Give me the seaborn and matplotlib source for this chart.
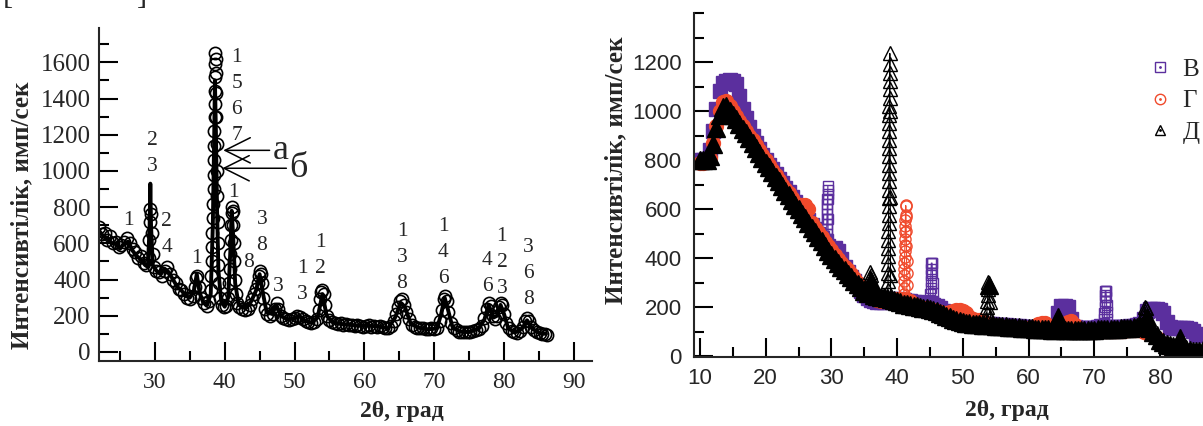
import numpy as np
import matplotlib
matplotlib.use("Agg")
import matplotlib.pyplot as plt
from matplotlib.lines import Line2D
from matplotlib.ticker import MultipleLocator
import seaborn as sns

# ---------------- LEFT PANEL DATA (curve "а" = circles, curve "б" = line) -------------
a_x = [22.0, 22.4, 22.8, 23.2, 23.6, 24.0, 24.4, 24.8, 25.2, 25.6, 26.0, 26.4, 26.8, 27.2, 27.6,
       28.0, 28.4, 28.8, 29.1, 29.2, 29.3, 29.35, 29.45, 29.55, 29.7, 29.9, 30.2, 30.6, 31.0, 31.4,
       31.8, 32.2, 32.6, 33.0, 33.4, 33.8, 34.2, 34.6, 35.0, 35.4, 35.7, 35.9, 36.1, 36.3, 36.6,
       37.0, 37.4, 37.8, 38.0, 38.1, 38.15, 38.2, 38.25, 38.3, 38.35, 38.4, 38.43, 38.46, 38.49,
       38.52, 38.55, 38.58, 38.6, 38.62, 38.64, 38.66, 38.7, 38.74, 38.78, 38.82, 38.86, 38.9,
       38.94, 38.98, 39.02, 39.08, 39.15, 39.3, 39.6, 39.9, 40.2, 40.45, 40.6, 40.7, 40.8, 40.88,
       40.95, 41.0, 41.06, 41.12, 41.2, 41.28, 41.36, 41.45, 41.6, 41.8, 42.1, 42.5, 42.9, 43.3,
       43.6, 43.9, 44.2, 44.5, 44.7, 44.85, 45.0, 45.15, 45.3, 45.5, 45.8, 46.1, 46.5, 46.9, 47.2,
       47.45, 47.7, 48.0, 48.4, 48.8, 49.2, 49.6, 50.0, 50.4, 50.8, 51.2, 51.6, 52.0, 52.4, 52.8,
       53.2, 53.5, 53.7, 53.85, 54.0, 54.15, 54.35, 54.6, 55.0, 55.4, 55.8, 56.2, 56.6, 57.0, 57.4,
       57.8, 58.2, 58.6, 59.0, 59.4, 59.8, 60.2, 60.6, 61.0, 61.4, 61.8, 62.2, 62.6, 63.0, 63.4,
       63.8, 64.2, 64.5, 64.8, 65.1, 65.4, 65.7, 66.0, 66.4, 66.8, 67.2, 67.6, 68.0, 68.4, 68.8,
       69.2, 69.6, 70.0, 70.4, 70.8, 71.1, 71.35, 71.55, 71.8, 72.05, 72.4, 72.8, 73.2, 73.6, 74.0,
       74.4, 74.8, 75.2, 75.6, 76.0, 76.4, 76.8, 77.2, 77.5, 77.8, 78.1, 78.4, 78.7, 79.0, 79.25,
       79.5, 79.75, 80.0, 80.3, 80.7, 81.1, 81.5, 81.9, 82.3, 82.7, 83.0, 83.3, 83.6, 83.9, 84.3,
       84.7, 85.1, 85.5, 85.9, 86.2]
a_y = [690, 650, 660, 620, 640, 600, 610, 580, 590, 610, 630, 600, 570, 550, 520,
       530, 490, 480, 520, 620, 720, 790, 760, 660, 540, 470, 450, 440, 420, 450,
       470, 430, 400, 380, 350, 340, 320, 300, 295, 310, 360, 410, 420, 360, 300,
       270, 255, 280, 340, 420, 500, 580, 660, 740, 820, 900, 980, 1060, 1140,
       1220, 1300, 1370, 1440, 1520, 1590, 1650, 1620, 1540, 1430, 1300, 1150, 1000,
       860, 720, 600, 480, 380, 300, 260, 250, 255, 300, 380, 460, 540, 620,
       700, 770, 800, 780, 700, 600, 500, 400, 320, 270, 250, 240, 230, 240,
       260, 290, 320, 350, 380, 420, 450, 430, 380, 300, 240, 210, 200, 210, 240,
       270, 240, 200, 185, 180, 175, 180, 185, 200, 195, 180, 170, 165, 160, 165,
       180, 230, 290, 330, 340, 320, 260, 200, 175, 165, 160, 155, 160, 150, 155,
       150, 150, 145, 150, 145, 140, 145, 150, 140, 145, 140, 145, 140, 135, 130,
       145, 170, 210, 250, 280, 290, 260, 220, 180, 150, 140, 135, 130, 130, 125,
       125, 130, 125, 135, 170, 230, 290, 310, 280, 220, 160, 135, 120, 112, 108,
       112, 108, 112, 115, 120, 128, 145, 190, 240, 270, 255, 200, 180, 200, 250,
       270, 260, 210, 160, 130, 115, 110, 105, 115, 140, 170, 185, 170, 140, 120,
       110, 105, 100, 100, 95]

b_x = [22.0, 22.6, 23.2, 23.8, 24.4, 25.0, 25.6, 26.2, 26.8, 27.4, 28.0, 28.6, 29.0, 29.25,
       29.35, 29.45, 29.7, 30.2, 30.8, 31.4, 32.0, 32.6, 33.2, 33.8, 34.4, 35.0, 35.6, 36.0,
       36.4, 36.9, 37.5, 38.0, 38.3, 38.5, 38.6, 38.75, 38.9, 39.1, 39.5, 40.0, 40.5, 40.8,
       41.0, 41.2, 41.5, 42.0, 43.0, 43.8, 44.5, 45.0, 45.4, 46.0, 46.8, 47.4, 48.0, 49.0,
       50.0, 50.6, 51.4, 52.4, 53.3, 54.0, 54.6, 55.4, 56.6, 58.0, 59.4, 60.8, 62.2, 63.4,
       64.4, 65.2, 65.8, 66.6, 67.6, 69.0, 70.4, 71.0, 71.5, 72.0, 72.6, 73.6, 75.0, 76.4,
       77.2, 77.8, 78.5, 79.0, 79.5, 80.0, 80.6, 81.6, 82.6, 83.3, 84.0, 85.0, 86.0]
b_y = [670, 640, 630, 600, 600, 570, 600, 610, 560, 530, 510, 480, 470, 700,
       930, 700, 480, 450, 430, 460, 440, 400, 360, 340, 310, 300, 340, 430,
       330, 275, 260, 320, 700, 1200, 1500, 1200, 800, 450, 280, 250, 300, 550,
       780, 650, 380, 260, 240, 280, 340, 430, 340, 220, 210, 260, 200, 180,
       185, 200, 175, 160, 190, 320, 200, 165, 155, 150, 145, 145, 140, 130,
       190, 270, 250, 160, 135, 125, 130, 210, 300, 230, 140, 112, 110, 130,
       180, 260, 190, 200, 260, 210, 130, 108, 130, 175, 130, 105, 100]

# peak index labels (x, y, text)
peak_label_x = [26.2, 29.6, 31.7, 36.0, 41.75, 41.2, 43.35, 45.35, 47.6, 51.1, 53.7, 65.4, 71.3, 77.6, 79.7, 83.5]
peak_label_y = [728, 1098, 651, 519, 1412, 883, 497, 662, 364, 392, 535, 524, 552, 436, 497, 432]
peak_label_t = ["1", "2\n3", "2\n4", "1", "1\n5\n6\n7", "1", "8", "3\n8", "3", "1\n3", "1\n2",
                "1\n3\n8", "1\n4\n6", "4\n6", "1\n2\n3", "3\n6\n8"]

# ---------------- RIGHT PANEL DATA (samples В, Г, Д) ----------------
grid = [10.0, 10.5, 11.0, 11.5, 12.0, 12.5, 13.0, 13.5, 14.0, 14.5,
        15.0, 15.5, 16.0, 16.5, 17.0, 17.5, 18.0, 18.5, 19.0, 19.5,
        20.0, 20.5, 21.0, 21.5, 22.0, 22.5, 23.0, 23.5, 24.0, 24.5,
        25.0, 25.5, 26.0, 26.5, 27.0, 27.5, 28.0, 28.5, 29.0, 29.5,
        30.0, 30.5, 31.0, 31.5, 32.0, 32.5, 33.0, 33.5, 34.0, 34.5,
        35.0, 35.5, 36.0, 36.5, 37.0, 37.5, 38.0, 38.5, 39.0, 39.5,
        40.0, 40.5, 41.0, 41.5, 42.0, 42.5, 43.0, 43.5, 44.0, 44.5,
        45.0, 45.5, 46.0, 46.5, 47.0, 47.5, 48.0, 48.5, 49.0, 49.5,
        50.0, 50.5, 51.0, 51.5, 52.0, 52.5, 53.0, 53.5, 54.0, 54.5,
        55.0, 55.5, 56.0, 56.5, 57.0, 57.5, 58.0, 58.5, 59.0, 59.5,
        60.0, 60.5, 61.0, 61.5, 62.0, 62.5, 63.0, 63.5, 64.0, 64.5,
        65.0, 65.5, 66.0, 66.5, 67.0, 67.5, 68.0, 68.5, 69.0, 69.5,
        70.0, 70.5, 71.0, 71.5, 72.0, 72.5, 73.0, 73.5, 74.0, 74.5,
        75.0, 75.5, 76.0, 76.5, 77.0, 77.5, 78.0, 78.5, 79.0, 79.5,
        80.0, 80.5, 81.0, 81.5, 82.0, 82.5, 83.0, 83.5, 84.0, 84.5,
        85.0, 85.5, 86.0, 86.5, 87.0]

V_base = [800, 800, 805, 840, 920, 1010, 1080, 1115, 1122, 1125,
          1122, 1110, 1060, 1010, 970, 935, 900, 870, 845, 822,
          802, 782, 763, 744, 725, 706, 687, 668, 649, 630,
          611, 592, 573, 554, 536, 518, 500, 482, 465, 448,
          430, 440, 430, 395, 365, 345, 325, 305, 285, 265,
          250, 238, 230, 225, 222, 220, 220, 225, 230, 235,
          235, 230, 228, 226, 224, 222, 220, 217, 215, 212,
          212, 210, 205, 195, 185, 175, 168, 160, 155, 150,
          146, 143, 140, 138, 136, 134, 133, 132, 131, 130,
          129, 128, 127, 126, 125, 124, 123, 122, 121, 120,
          119, 118, 117, 116, 115, 115, 114, 114, 125, 175,
          205, 207, 200, 150, 118, 115, 114, 114, 115, 115,
          116, 120, 125, 120, 121, 120, 118, 118, 119, 120,
          121, 122, 124, 126, 130, 150, 185, 192, 192, 192,
          190, 175, 140, 118, 115, 115, 115, 115, 115, 113,
          105, 92, 88, 88, 88]
V_ex_x = [29.24, 29.26, 29.28, 29.30, 29.32, 29.34, 29.36, 29.38, 29.40, 29.42, 29.44, 29.46,
          29.47, 29.48, 29.49,
          45.02, 45.05, 45.08, 45.11, 45.14, 45.17, 45.2, 45.26, 45.32, 45.38, 45.42, 45.45, 45.48,
          71.52, 71.55, 71.58, 71.61, 71.64, 71.67, 71.72, 71.78, 71.84, 71.88, 71.92, 71.96]
V_ex_y = [480, 500, 520, 540, 560, 580, 600, 620, 640, 660, 680, 695,
          640, 560, 480,
          230, 255, 280, 305, 330, 355, 380, 380, 380, 340, 300, 260, 225,
          150, 175, 200, 225, 250, 265, 265, 265, 240, 210, 180, 150]

G_base = [790, 788, 792, 810, 870, 940, 1000, 1035, 1040, 1020,
          1000, 980, 960, 940, 920, 900, 880, 860, 840, 820,
          800, 780, 760, 740, 720, 700, 682, 664, 645, 627,
          610, 615, 615, 600, 545, 525, 505, 487, 468, 450,
          432, 415, 398, 382, 365, 350, 335, 318, 300, 284,
          268, 254, 244, 236, 230, 226, 224, 226, 228, 230,
          232, 232, 232, 228, 225, 212, 206, 202, 198, 195,
          193, 190, 186, 180, 176, 178, 182, 186, 188, 188,
          186, 178, 160, 150, 148, 148, 145, 135, 128, 124,
          122, 121, 120, 119, 118, 117, 116, 115, 114, 114,
          113, 113, 120, 132, 136, 134, 120, 110, 108, 108,
          110, 125, 140, 142, 128, 110, 106, 105, 105, 104,
          104, 103, 103, 103, 103, 103, 103, 104, 104, 105,
          106, 107, 108, 108, 106, 100, 95, 92, 88, 75,
          58, 45, 35, 28, 22, 18, 16, 15, 14, 14,
          14, 15, 16, 18, 20]
G_ex_x = [41.02, 41.04, 41.06, 41.08, 41.10, 41.12, 41.14, 41.16, 41.18, 41.20, 41.22, 41.24,
          41.26, 41.28, 41.30, 41.33, 41.36, 41.39, 41.42, 41.44, 41.46, 41.48]
G_ex_y = [255, 280, 305, 330, 355, 380, 405, 430, 455, 480, 505, 530,
          555, 578, 615, 612, 570, 510, 450, 390, 340, 290]

D_base = [800, 800, 802, 815, 865, 930, 985, 1018, 1020, 1002,
          985, 966, 947, 928, 909, 890, 870, 850, 830, 810,
          790, 771, 752, 733, 714, 695, 676, 657, 637, 618,
          600, 581, 562, 543, 524, 506, 487, 469, 450, 431,
          412, 397, 382, 366, 350, 336, 322, 308, 295, 282,
          268, 258, 305, 250, 246, 242, 240, 236, 233, 229,
          225, 220, 215, 212, 210, 207, 204, 201, 198, 195,
          192, 188, 183, 178, 172, 166, 160, 154, 148, 144,
          140, 137, 135, 133, 131, 130, 129, 128, 290, 126,
          125, 124, 123, 122, 121, 120, 119, 118, 117, 116,
          115, 114, 113, 112, 111, 110, 110, 109, 109, 160,
          110, 109, 108, 108, 108, 108, 108, 108, 108, 109,
          109, 110, 110, 111, 111, 112, 112, 113, 114, 115,
          116, 117, 119, 121, 124, 128, 160, 115, 100, 85,
          68, 57, 50, 44, 40, 38, 75, 33, 28, 24,
          21, 20, 22, 25, 28]
D_ex_x = [35.6, 35.7, 35.8, 35.9, 35.95, 36.1, 36.2,
          38.60, 38.61, 38.62, 38.63, 38.64, 38.65, 38.66, 38.67, 38.68, 38.69,
          38.70, 38.71, 38.72, 38.73, 38.74, 38.75, 38.76, 38.77, 38.78, 38.79,
          38.80, 38.81, 38.82, 38.83, 38.84, 38.85, 38.86, 38.87, 38.88, 38.89,
          38.92, 38.95, 38.98,
          53.6, 53.65, 53.7, 53.75, 53.8, 53.85, 53.9, 54.1, 54.2,
          77.55, 77.6, 77.65, 77.7, 77.8,
          82.9, 83.1]
D_ex_y = [275, 300, 325, 345, 330, 280, 262,
          240, 272, 306, 341, 375, 408, 443, 476, 511, 545,
          578, 613, 646, 680, 715, 748, 782, 816, 850, 884,
          918, 951, 986, 1020, 1054, 1088, 1122, 1156, 1190, 1235,
          1000, 650, 330,
          150, 175, 200, 225, 250, 275, 302, 220, 160,
          145, 165, 185, 200, 195,
          55, 52]

series_names = ["В", "Г", "Д"]
PURPLE = "#5b2f9e"
RED = "#f04a2c"
BLACK = "#000000"


def merged(base, ex_x, ex_y):
    x = np.concatenate([np.asarray(grid, float), np.asarray(ex_x, float)])
    y = np.concatenate([np.asarray(base, float), np.asarray(ex_y, float)])
    o = np.argsort(x, kind="stable")
    return x[o], y[o]


sns.set_style("ticks")
plt.rcParams["font.family"] = ["Liberation Serif", "DejaVu Serif"]
plt.rcParams["axes.linewidth"] = 1.5

fig = plt.figure(figsize=(12.03, 4.26), dpi=100)
W, H = 1203.0, 426.0
axL = fig.add_axes([99 / W, 65 / H, 493 / W, 333 / H])
axR = fig.add_axes([694 / W, 69 / H, 531.7 / W, 344 / H])

# ---------------- left panel ----------------
sns.lineplot(x=a_x, y=a_y, ax=axL, estimator=None, sort=False, color=BLACK,
             linestyle="", marker="o", markersize=8.8, markerfacecolor="none",
             markeredgecolor=BLACK, markeredgewidth=1.2)
sns.lineplot(x=b_x, y=b_y, ax=axL, estimator=None, sort=False, color=BLACK, linewidth=2.8)

axL.set_xlim(22, 92.6)
axL.set_ylim(-50, 1790)
axL.xaxis.set_major_locator(MultipleLocator(10))
axL.xaxis.set_minor_locator(MultipleLocator(5))
axL.yaxis.set_major_locator(MultipleLocator(200))
axL.yaxis.set_minor_locator(MultipleLocator(100))
axL.tick_params(which="major", direction="in", length=13.5, width=1.5, color=BLACK)
axL.tick_params(which="minor", direction="in", length=7.5, width=1.5, color=BLACK)
axL.tick_params(axis="y", labelsize=18, pad=6)
axL.tick_params(axis="x", labelsize=17, pad=8)
sns.despine(ax=axL)

axL.set_ylabel("Интенсивтілік, имп/сек", fontsize=18, fontweight="bold")
axL.yaxis.set_label_coords(-0.134, 0.438)
axL.set_xlabel("2θ, град", fontsize=17, fontweight="bold")
axL.xaxis.set_label_coords(0.615, -0.12)

for lx, ly, lt in zip(peak_label_x, peak_label_y, peak_label_t):
    axL.text(lx, ly, lt, ha="center", va="center", fontsize=15.5, linespacing=1.5)

arrow = dict(arrowstyle="->,head_length=0.7,head_width=0.35", lw=1.1, color=BLACK,
             shrinkA=0, shrinkB=0)
axL.annotate("а", xy=(39.8, 1114), xytext=(46.9, 1114), ha="left", va="center",
             fontsize=26, arrowprops=arrow)
axL.annotate("б", xy=(39.65, 1015), xytext=(49.3, 1015), ha="left", va="center",
             fontsize=26, arrowprops=arrow)

# ---------------- right panel ----------------
vx, vy = merged(V_base, V_ex_x, V_ex_y)
gx, gy = merged(G_base, G_ex_x, G_ex_y)
dx, dy = merged(D_base, D_ex_x, D_ex_y)

specs = [(V_base, vx, vy, PURPLE, "s", 9.5, 7.5),
         (G_base, gx, gy, RED, "o", 10.0, 8.0),
         (D_base, dx, dy, BLACK, "^", 12.5, 9.5)]
for base, sx, sy, col, mk, ms_band, ms_open in specs:
    # dense scan band (overlapping symbols look solid)
    sns.lineplot(x=grid, y=base, ax=axR, estimator=None, sort=False, color=col,
                 linestyle="", marker=mk, markersize=ms_band, markerfacecolor=col,
                 markeredgecolor=col, markeredgewidth=1.0)
    # full scan with open symbols and thin connecting line
    sns.lineplot(x=sx, y=sy, ax=axR, estimator=None, sort=False, color=col, linewidth=0.8,
                 marker=mk, markersize=ms_open, markerfacecolor="none", markeredgecolor=col,
                 markeredgewidth=1.0)

axR.set_xlim(9.09, 90)
axR.set_ylim(-3, 1400)
axR.xaxis.set_major_locator(MultipleLocator(10))
axR.xaxis.set_minor_locator(MultipleLocator(5))
axR.tick_params(which="major", direction="in", length=13.5, width=1.5, color=BLACK)
axR.tick_params(which="minor", direction="in", length=7, width=1.5, color=BLACK)
axR.tick_params(axis="both", labelsize=16, labelfontfamily="Liberation Sans")
axR.tick_params(axis="y", pad=9)
axR.tick_params(axis="x", pad=8)
axR.set_yticks([0, 200, 400, 600, 800, 1000, 1200])
axR.yaxis.set_minor_locator(MultipleLocator(100))
sns.despine(ax=axR)

axR.set_ylabel("Интенсивтілік, имп/сек", fontsize=18, fontweight="bold")
axR.yaxis.set_label_coords(-0.126, 0.544)
axR.set_xlabel("2θ, град", fontsize=17, fontweight="bold")
axR.xaxis.set_label_coords(0.589, -0.125)

handles = []
for c, m in zip([PURPLE, RED, BLACK], ["s", "o", "^"]):
    h = Line2D([], [], linestyle="", marker=m, markersize=7.5, markerfacecolor="none",
               markeredgecolor=c, markeredgewidth=1.0)
    d = Line2D([], [], linestyle="", marker=".", markersize=2, color=c)
    handles.append((h, d))
axR.legend(handles, series_names, loc="upper left", bbox_to_anchor=(1150 / W, 1 - 58 / H),
           bbox_transform=fig.transFigure, frameon=False, fontsize=18, handlelength=0.8,
           handletextpad=0.5, labelspacing=0.37, borderpad=0, borderaxespad=0)

# cropped brackets of text above the figure
fig.text(3 / W, 1 - 11 / H, "[", fontsize=22, ha="left", va="bottom")
fig.text(147 / W, 1 - 11 / H, "]", fontsize=22, ha="right", va="bottom")

fig.savefig("out.png", dpi=100)
